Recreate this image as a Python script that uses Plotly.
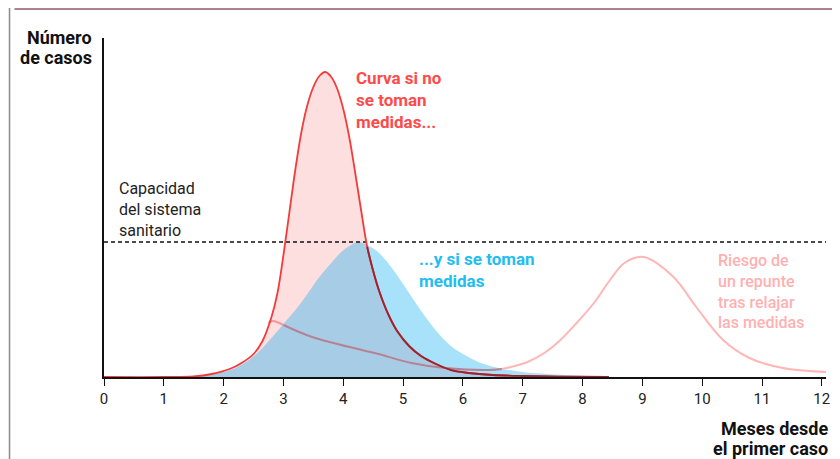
import plotly.graph_objects as go

# Meses desde el primer caso / número de casos (unidades relativas)
meses_sin = [0, 1.0, 1.5, 1.8, 2.1, 2.3, 2.5, 2.65, 2.8, 2.9, 3.0, 3.1, 3.2,
             3.3, 3.4, 3.5, 3.6, 3.7, 3.8, 3.9, 4.0, 4.1, 4.2, 4.3, 4.4, 4.5,
             4.6, 4.75, 4.9, 5.1, 5.3, 5.55, 5.8, 6.1, 6.5, 7.0, 7.6, 8.44]
casos_sin = [0, 0, 0.5, 3, 8, 14, 23, 36, 60, 84, 122, 165, 208,
             245, 272, 290, 301, 305, 300, 288, 268, 240, 204, 166, 130, 106,
             86, 63, 46, 31, 21, 13, 7, 4, 2, 1, 0.4, 0]

meses_con = [1.0, 1.5, 1.8, 2.0, 2.2, 2.4, 2.6, 2.8, 3.0, 3.2, 3.4, 3.6, 3.8,
             3.95, 4.1, 4.25, 4.4, 4.6, 4.8, 5.0, 5.2, 5.4, 5.6, 5.8, 6.0, 6.3,
             6.6, 7.0, 7.4, 7.9, 8.44]
casos_con = [0, 0.8, 2.5, 5, 9, 16, 26, 39, 53, 67, 83, 100, 114,
             124, 131, 135, 132, 124, 110, 93, 75, 58, 43, 31, 23, 14,
             9, 5, 3, 1.5, 0]

meses_rep = [2.75, 2.82, 3.0, 3.48, 4.31, 4.59, 5.14, 5.7, 6.42, 6.65, 6.8,
             7.08, 7.36, 7.63, 7.9, 8.19, 8.46, 8.7, 9.02, 9.52, 9.9, 10.35,
             10.79, 11.35, 12.07]
casos_rep = [54, 56, 52, 40, 27, 23, 14, 9, 7, 8, 10,
             15, 24, 37, 54, 74, 97, 114, 120, 100, 70, 37,
             19, 9, 5]

capacidad = 135
ticks_meses = list(range(0, 13))

FONT = "Roboto"
ROJO = "#f23c3c"
ROJO_OSCURO = "#9a2530"
ROSA = "#ffb6b6"
CIAN_TXT = "#22bdf2"
SPL = dict(shape="spline", smoothing=1.0)

fig = go.Figure()

# rellenos
fig.add_trace(go.Scatter(
    x=meses_sin, y=casos_sin, mode="lines", line=dict(width=0, **SPL),
    fill="tozeroy", fillcolor="#fddfdf", hoverinfo="skip", showlegend=False
))
fig.add_trace(go.Scatter(
    x=meses_con, y=casos_con, mode="lines", line=dict(width=0, **SPL),
    fill="tozeroy", fillcolor="rgba(0,167,240,0.34)", hoverinfo="skip", showlegend=False
))

# línea de capacidad
fig.add_trace(go.Scatter(
    x=[0, 12.07], y=[capacidad, capacidad], mode="lines",
    line=dict(color="#111111", width=1.3, dash="4px,3px"), hoverinfo="skip", showlegend=False
))

# curva del repunte (tramos según el fondo)
i_a = meses_rep.index(3.0)
i_b = meses_rep.index(6.65)
fig.add_trace(go.Scatter(
    x=meses_rep, y=casos_rep, mode="lines",
    line=dict(color=ROSA, width=2, **SPL), hoverinfo="skip", showlegend=False
))
fig.add_trace(go.Scatter(
    x=meses_rep[:i_a + 1], y=casos_rep[:i_a + 1], mode="lines",
    line=dict(color="#f39aa2", width=2, **SPL), hoverinfo="skip", showlegend=False
))
fig.add_trace(go.Scatter(
    x=meses_rep[i_a:i_b + 1], y=casos_rep[i_a:i_b + 1], mode="lines",
    line=dict(color="#a9869b", width=2, **SPL), hoverinfo="skip", showlegend=False
))

# curva sin medidas
i_r = meses_sin.index(4.4)
fig.add_trace(go.Scatter(
    x=meses_sin, y=casos_sin, mode="lines",
    line=dict(color=ROJO, width=1.8, **SPL), hoverinfo="skip", showlegend=False
))
fig.add_trace(go.Scatter(
    x=meses_sin[i_r:], y=casos_sin[i_r:], mode="lines",
    line=dict(color=ROJO_OSCURO, width=1.9, **SPL), hoverinfo="skip", showlegend=False
))


# posiciones en píxeles de la página -> coordenadas paper (área del gráfico 104..830, 38..377)
def px(xp):
    return (xp - 104) / 726


def py(yp):
    return (377 - yp) / 339


anotaciones = [
    dict(text="<b>Número</b>", x=px(94), y=py(37), xanchor="right", yanchor="middle",
         font=dict(size=18, color="#111111")),
    dict(text="<b>de casos</b>", x=px(94), y=py(57), xanchor="right", yanchor="middle",
         font=dict(size=18, color="#111111")),
    dict(text="Capacidad<br>del sistema<br>sanitario", x=px(117), y=py(177), xanchor="left", yanchor="top",
         align="left", font=dict(size=16, color="#222222")),
    dict(text="<b>Curva si no<br>se toman<br>medidas...</b>", x=px(355), y=py(66), xanchor="left", yanchor="top",
         align="left", font=dict(size=17, color="#ff4a4a")),
    dict(text="<b>...y si se toman<br>medidas</b>", x=px(419), y=py(247), xanchor="left", yanchor="top",
         align="left", font=dict(size=17, color=CIAN_TXT)),
    dict(text="Riesgo de<br>un repunte<br>tras relajar<br>las medidas", x=px(719), y=py(249),
         xanchor="left", yanchor="top", align="left", font=dict(size=16, color="#ffb0b0", weight=500)),
    dict(text="<b>Meses desde</b>", x=px(834), y=py(428), xanchor="right", yanchor="middle",
         font=dict(size=18, color="#111111")),
    dict(text="<b>el primer caso</b>", x=px(834), y=py(449), xanchor="right", yanchor="middle",
         font=dict(size=18, color="#111111")),
]
for a in anotaciones:
    fig.add_annotation(xref="paper", yref="paper", showarrow=False, **a)

# marco del gráfico
marco = [
    dict(x0=px(9), x1=px(9), y0=py(8), y1=py(459), color="#8a8a8a"),
    dict(x0=px(837), x1=px(837), y0=py(8), y1=py(459), color="#b0b0b0"),
    dict(x0=px(14), x1=px(840), y0=py(9), y1=py(9), color="#8c5a6e"),
]
for m in marco:
    fig.add_shape(type="line", xref="paper", yref="paper", x0=m["x0"], x1=m["x1"],
                  y0=m["y0"], y1=m["y1"], line=dict(color=m["color"], width=1.5))

fig.update_xaxes(
    range=[0, 12.07], tickvals=ticks_meses, ticktext=[str(t) for t in ticks_meses],
    showline=True, linecolor="#111111", linewidth=1.5, ticks="outside", ticklen=7,
    tickcolor="#111111", tickwidth=1, showgrid=False, zeroline=False,
    tickfont=dict(family=FONT, size=15, color="#222222")
)
fig.update_yaxes(
    range=[0, 339], showline=True, linecolor="#111111", linewidth=1.5,
    showticklabels=False, ticks="", showgrid=False, zeroline=False
)

# la página añade 8 px de margen: la figura ocupa 832x451 y el área del gráfico queda igual
fig.update_layout(
    width=832, height=451,
    margin=dict(l=96, r=10, t=30, b=82),
    paper_bgcolor="white", plot_bgcolor="white",
    font=dict(family=FONT),
    showlegend=False
)

fig.write_html("out.html")
